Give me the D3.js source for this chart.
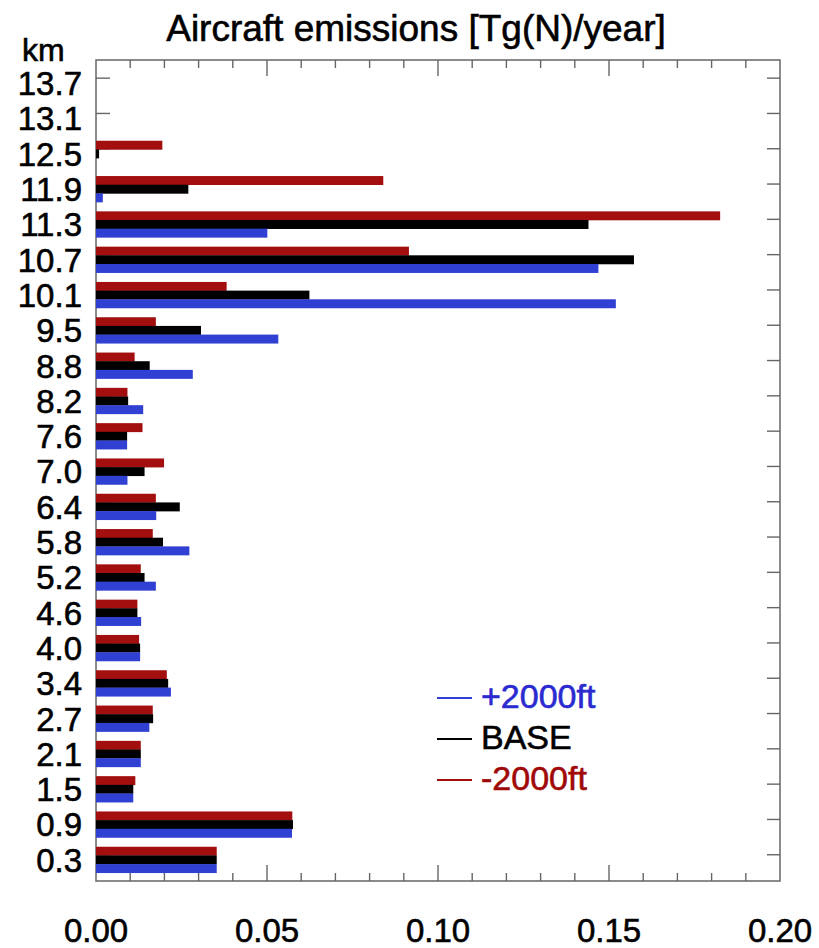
<!DOCTYPE html>
<html>
<head>
<meta charset="utf-8">
<script src="https://cdn.jsdelivr.net/npm/d3@7/dist/d3.min.js"></script>
<style>
  html, body { margin: 0; padding: 0; background: #fff; }
  svg { display: block; font-family: "Liberation Sans", Arial, Helvetica, sans-serif; }
  text { stroke-width: 0.6px; }
</style>
</head>
<body>
<svg id="chart" width="819" height="948"></svg>
<script>
// ---- data (bottom to top) ----
const categories = ["0.3","0.9","1.5","2.1","2.7","3.4","4.0","4.6","5.2","5.8","6.4","7.0","7.6","8.2","8.8","9.5","10.1","10.7","11.3","11.9","12.5","13.1","13.7"];
const plus2000  = [0.0353,0.0573,0.0109,0.0131,0.0156,0.0219,0.0129,0.0132,0.0175,0.0273,0.0176,0.0092,0.0091,0.0138,0.0283,0.0533,0.1520,0.1469,0.0501,0.0020,0,0,0];
const base      = [0.0353,0.0576,0.0109,0.0131,0.0167,0.0211,0.0129,0.0121,0.0142,0.0196,0.0245,0.0142,0.0091,0.0094,0.0157,0.0307,0.0624,0.1573,0.1440,0.0270,0.0009,0,0];
const minus2000 = [0.0353,0.0574,0.0115,0.0131,0.0166,0.0207,0.0126,0.0121,0.0131,0.0166,0.0175,0.0199,0.0136,0.0092,0.0113,0.0175,0.0382,0.0915,0.1825,0.0840,0.0194,0,0];
const seriesNames = ["-2000ft","BASE","+2000ft"];      // top-to-bottom inside each group
const legendNames = ["+2000ft","BASE","-2000ft"];
const xTickValues = [0.00,0.05,0.10,0.15,0.20];
const xTickLabels = ["0.00","0.05","0.10","0.15","0.20"];
const titleText = "Aircraft emissions [Tg(N)/year]";
const yUnit = "km";

const seriesData = { "+2000ft": plus2000, "BASE": base, "-2000ft": minus2000 };
const barColor  = { "+2000ft": "#3040d2", "BASE": "#000000", "-2000ft": "#a30f0f" };
const textColor = { "+2000ft": "#2a2ad0", "BASE": "#000000", "-2000ft": "#a00808" };

// ---- layout ----
const plotL = 96, plotR = 780, plotT = 60, plotB = 881;
const svg = d3.select("#chart");

const x = d3.scaleLinear().domain([0, 0.20]).range([plotL, plotR]);
const y = d3.scaleBand().domain(categories).range([877.4, 65.5]).paddingInner(0).paddingOuter(0);
const groupH = 26;
const yInner = d3.scaleBand().domain(seriesNames).range([0, groupH]).padding(0);

// frame
const axisColor = "#666";
svg.append("rect")
  .attr("x", plotL).attr("y", plotT)
  .attr("width", plotR - plotL).attr("height", plotB - plotT)
  .attr("fill", "none").attr("stroke", axisColor).attr("stroke-width", 1.5);

// x ticks (top and bottom, inward)
const minorTicks = d3.range(0, 21).map(k => k / 100);
const tickG = svg.append("g").attr("stroke", axisColor).attr("stroke-width", 1.4);
minorTicks.forEach(v => {
  const major = Math.round(v * 100) % 5 === 0;
  const len = major ? 16 : 8;
  if (v > 0 && v < 0.2) {
    tickG.append("line").attr("x1", x(v)).attr("x2", x(v)).attr("y1", plotT).attr("y2", plotT + len);
    tickG.append("line").attr("x1", x(v)).attr("x2", x(v)).attr("y1", plotB).attr("y2", plotB - len);
  }
});
// y ticks (left and right, inward)
categories.forEach(c => {
  const yy = y(c) + y.bandwidth() / 2 - 5;
  tickG.append("line").attr("x1", plotL).attr("x2", plotL + 14).attr("y1", yy).attr("y2", yy);
  tickG.append("line").attr("x1", plotR).attr("x2", plotR - 13).attr("y1", yy).attr("y2", yy);
});

// bars (drawn over ticks)
const rows = categories.map((c, i) => ({ c, i }));
const groups = svg.append("g").selectAll("g").data(rows).join("g")
  .attr("transform", d => `translate(0,${y(d.c) + (y.bandwidth() - groupH) / 2})`);
groups.selectAll("rect")
  .data(d => seriesNames.map(s => ({ s, v: seriesData[s][d.i] })))
  .join("rect")
  .attr("x", x(0))
  .attr("y", d => yInner(d.s))
  .attr("width", d => Math.max(0, x(d.v) - x(0)))
  .attr("height", yInner.bandwidth() + 0.3)
  .attr("fill", d => barColor[d.s]);

// x tick labels
svg.append("g").selectAll("text").data(xTickValues).join("text")
  .attr("x", d => x(d)).attr("y", 942)
  .attr("text-anchor", "middle")
  .attr("font-size", 33)
  .attr("fill", "#000").attr("stroke", "#000")
  .text((d, i) => xTickLabels[i]);

// y labels
svg.append("g").selectAll("text").data(categories).join("text")
  .attr("x", 82)
  .attr("y", c => y(c) + y.bandwidth() / 2 + 12)
  .attr("text-anchor", "end")
  .attr("font-size", 33)
  .attr("fill", "#000").attr("stroke", "#000")
  .text(c => c);

// unit label
svg.append("text").attr("x", 22).attr("y", 61).attr("font-size", 32)
  .attr("fill", "#000").attr("stroke", "#000").text(yUnit);

// title
svg.append("text").attr("x", 416).attr("y", 41).attr("text-anchor", "middle")
  .attr("font-size", 37).attr("fill", "#000").attr("stroke", "#000").text(titleText);

// legend
const legY = d3.scalePoint().domain(legendNames).range([708, 790]);
const leg = svg.append("g");
legendNames.forEach(n => {
  leg.append("line")
    .attr("x1", 437).attr("x2", 472)
    .attr("y1", legY(n) - 10).attr("y2", legY(n) - 10)
    .attr("stroke", barColor[n]).attr("stroke-width", 2);
  leg.append("text")
    .attr("x", 481).attr("y", legY(n))
    .attr("font-size", 34).attr("fill", textColor[n]).attr("stroke", textColor[n]).text(n);
});
</script>
</body>
</html>
